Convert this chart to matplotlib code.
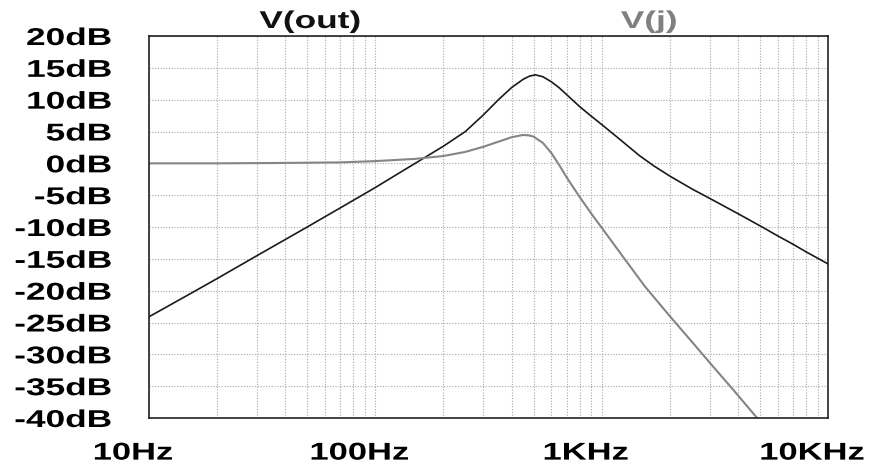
import matplotlib
matplotlib.use('Agg')
import matplotlib.pyplot as plt
import matplotlib.patheffects as pe
from matplotlib.transforms import Affine2D, ScaledTranslation
from matplotlib.ticker import LogLocator, NullFormatter

# V(out) trace (Hz, dB)
f_out = [10, 15, 20, 30, 50, 70, 100, 125, 150, 200, 250, 300, 350, 400,
         450, 480, 510, 550, 600, 650, 700, 800, 900, 1000, 1200, 1470, 1700, 2000,
         2500, 3000, 4000, 5000, 6000, 7000, 8000, 9000, 10000]
db_out = [-24.1, -20.6, -18.1, -14.5, -10.0, -7.0, -3.8, -1.7, 0.0, 2.7, 5.0, 7.6, 10.0, 11.9,
          13.2, 13.7, 13.9, 13.6, 12.8, 11.85, 10.8, 8.9, 7.4, 6.1, 3.8, 1.2, -0.4, -2.0,
          -4.0, -5.5, -7.9, -9.8, -11.4, -12.7, -13.9, -14.9, -15.8]

# V(j) trace
f_j = [10, 20, 35, 50, 70, 100, 150, 200, 250, 300, 350, 400, 448, 475, 500, 550,
       600, 650, 700, 800, 900, 1000, 1250, 1550, 2000, 2500, 3000, 3800, 4860]
db_j = [0.0, 0.0, 0.05, 0.1, 0.15, 0.35, 0.7, 1.15, 1.8, 2.6, 3.4, 4.1, 4.45, 4.4, 4.2, 3.2,
        1.6, -0.3, -2.2, -5.3, -7.9, -10.1, -14.8, -19.3, -24.0, -28.0, -31.3, -35.5, -40.0]

y_ticks = list(range(-40, 25, 5))
y_labels = ['%ddB' % v for v in y_ticks]
x_ticks = [10, 100, 1000, 10000]
x_labels = ['10Hz', '100Hz', '1KHz', '10KHz']


class Wide(pe.AbstractPathEffect):
    # the screenshot is stretched sideways, so widen the glyphs the same way
    def __init__(self, sx, anchor='center'):
        super().__init__()
        self.sx = sx
        self.anchor = anchor

    def draw_path(self, renderer, gc, tpath, affine, rgbFace=None):
        ext = tpath.get_extents()
        if self.anchor == 'right':
            x0 = ext.x1
        elif self.anchor == 'left':
            x0 = ext.x0
        else:
            x0 = (ext.x0 + ext.x1) / 2
        t = Affine2D().translate(-x0, 0).scale(self.sx, 1).translate(x0, 0)
        renderer.draw_path(gc, tpath, t + affine, rgbFace)


plt.rcParams['font.family'] = ['Liberation Sans', 'DejaVu Sans']
plt.rcParams['font.weight'] = 'bold'
plt.rcParams['font.size'] = 17.5

fig = plt.figure(figsize=(8.8, 4.68), dpi=100)
ax = fig.add_axes([149/880, 50/468, 679/880, 382/468])
ax.set_axisbelow(True)

ax.semilogx(f_out, db_out, color='#1a1a1a', lw=1.2)
ax.semilogx(f_j, db_j, color='#858585', lw=1.5)

ax.set_xlim(10, 10000)
ax.set_ylim(-40, 20)
ax.set_yticks(y_ticks, y_labels)
ax.set_xticks(x_ticks, x_labels)
ax.xaxis.set_minor_locator(LogLocator(base=10, subs=range(2, 10)))
ax.xaxis.set_minor_formatter(NullFormatter())
ax.grid(True, which='both', color='#a8a8a8', ls=(0, (1, 1.5)), lw=0.8)
ax.tick_params(which='both', length=0)
ax.tick_params(axis='y', pad=27)
ax.tick_params(axis='x', pad=17)
for s in ax.spines.values():
    s.set_color('#222222')
    s.set_linewidth(1.2)

for lab in ax.get_yticklabels():
    lab.set_path_effects([Wide(1.45, 'right')])
for lab in ax.get_xticklabels():
    lab.set_path_effects([Wide(1.42, 'center')])
    lab.set_transform(lab.get_transform() + ScaledTranslation(-0.16, 0, fig.dpi_scale_trans))

t1 = fig.text(310/880, 1 - 28/468, 'V(out)', ha='center', va='baseline', color='#111111')
t2 = fig.text(649/880, 1 - 28/468, 'V(j)', ha='center', va='baseline', color='#808080')
t1.set_path_effects([Wide(1.45, 'center')])
t2.set_path_effects([Wide(1.45, 'center')])

fig.savefig('out.png', dpi=100, facecolor='white')
